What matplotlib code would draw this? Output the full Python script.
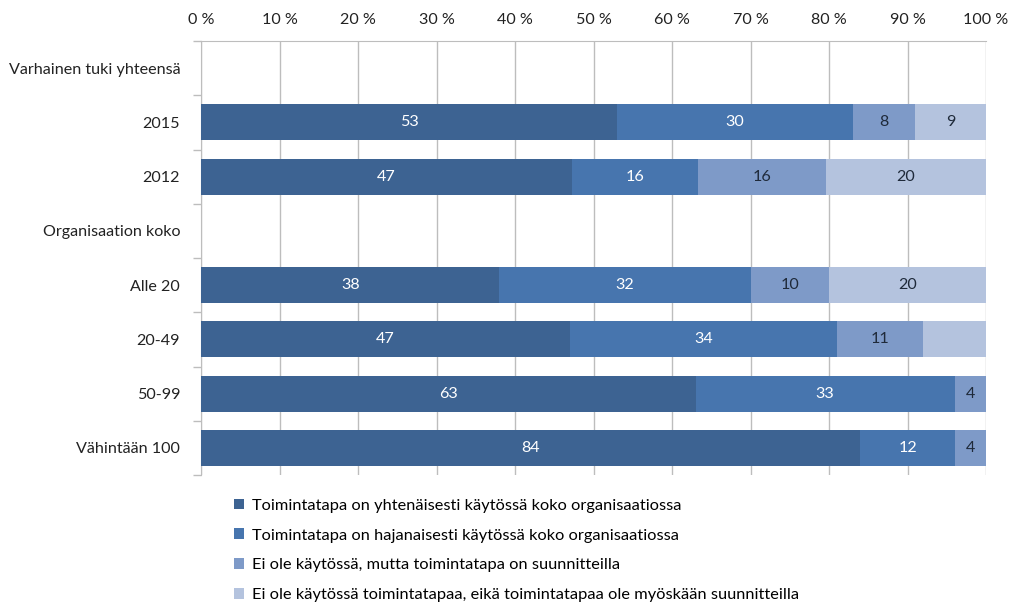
import matplotlib
matplotlib.use("Agg")
import matplotlib.pyplot as plt
import numpy as np

plt.rcParams['font.family'] = ['Lato', 'DejaVu Sans']

categories = ["Varhainen tuki yhteensä", "2015", "2012", "Organisaation koko",
              "Alle 20", "20-49", "50-99", "Vähintään 100"]

series_names = [
    "Toimintatapa on yhtenäisesti käytössä koko organisaatiossa",
    "Toimintatapa on hajanaisesti käytössä koko organisaatiossa",
    "Ei ole käytössä, mutta toimintatapa on suunnitteilla",
    "Ei ole käytössä toimintatapaa, eikä toimintatapaa ole myöskään suunnitteilla",
]

yhtenainen = [0, 53, 47.3, 0, 38, 47, 63, 84]
hajanainen = [0, 30, 16.0, 0, 32, 34, 33, 12]
suunnitteilla = [0, 8, 16.3, 0, 10, 11, 4, 4]
ei_kaytossa = [0, 9, 20.4, 0, 20, 8, 0, 0]

# printed labels (None = no label shown)
labels = [
    [None, "53", "47", None, "38", "47", "63", "84"],
    [None, "30", "16", None, "32", "34", "33", "12"],
    [None, "8", "16", None, "10", "11", "4", "4"],
    [None, "9", "20", None, "20", None, None, None],
]

colors = ["#3d6392", "#4775ae", "#7e9ac8", "#b4c3de"]
text_colors = ["white", "white", "#1f2a3a", "#1f2a3a"]

fig = plt.figure(figsize=(10.23, 6.15), dpi=100)
ax = fig.add_axes([0.1965, 0.2276, 0.7674, 0.7057])

y = np.arange(len(categories))
left = np.zeros(len(categories))
handles = []
for vals, labs, col, tcol, name in zip(
        [yhtenainen, hajanainen, suunnitteilla, ei_kaytossa],
        labels, colors, text_colors, series_names):
    vals = np.array(vals, dtype=float)
    b = ax.barh(y, vals, left=left, height=0.66, color=col, label=name, zorder=3)
    handles.append(b)
    for i, (v, lab) in enumerate(zip(vals, labs)):
        if lab is not None and v > 0:
            ax.text(left[i] + v / 2, y[i], lab, ha="center", va="center",
                    color=tcol, fontsize=11.6, zorder=4)
    left += vals

ax.set_xlim(0, 100)
ax.set_ylim(len(categories) - 0.5, -0.5)
ax.set_xticks(np.arange(0, 101, 10))
ax.set_xticklabels([f"{t} %" for t in range(0, 101, 10)])
ax.xaxis.tick_top()
ax.tick_params(axis="x", length=0, pad=10, labelsize=11.6, colors="#222222")
ax.grid(axis="x", color="#bdbdbd", linewidth=1, zorder=0)

ax.set_yticks(y)
ax.set_yticklabels(categories)
ax.set_yticks(np.arange(-0.5, len(categories), 1), minor=True)
ax.tick_params(axis="y", which="major", length=0, pad=15, labelsize=11.6, colors="#222222")
ax.tick_params(axis="y", which="minor", length=6, color="#bdbdbd", width=1)

for s in ["right", "bottom"]:
    ax.spines[s].set_visible(False)
ax.spines["top"].set_color("#bdbdbd")
ax.spines["left"].set_color("#bdbdbd")

leg = fig.legend(handles=handles, labels=series_names, loc="upper left",
                 bbox_to_anchor=(0.222, 0.200), frameon=False, fontsize=11.8,
                 handlelength=0.65, handleheight=0.65, handletextpad=0.45,
                 labelspacing=0.95, borderaxespad=0)

fig.savefig("out.png", dpi=100)
